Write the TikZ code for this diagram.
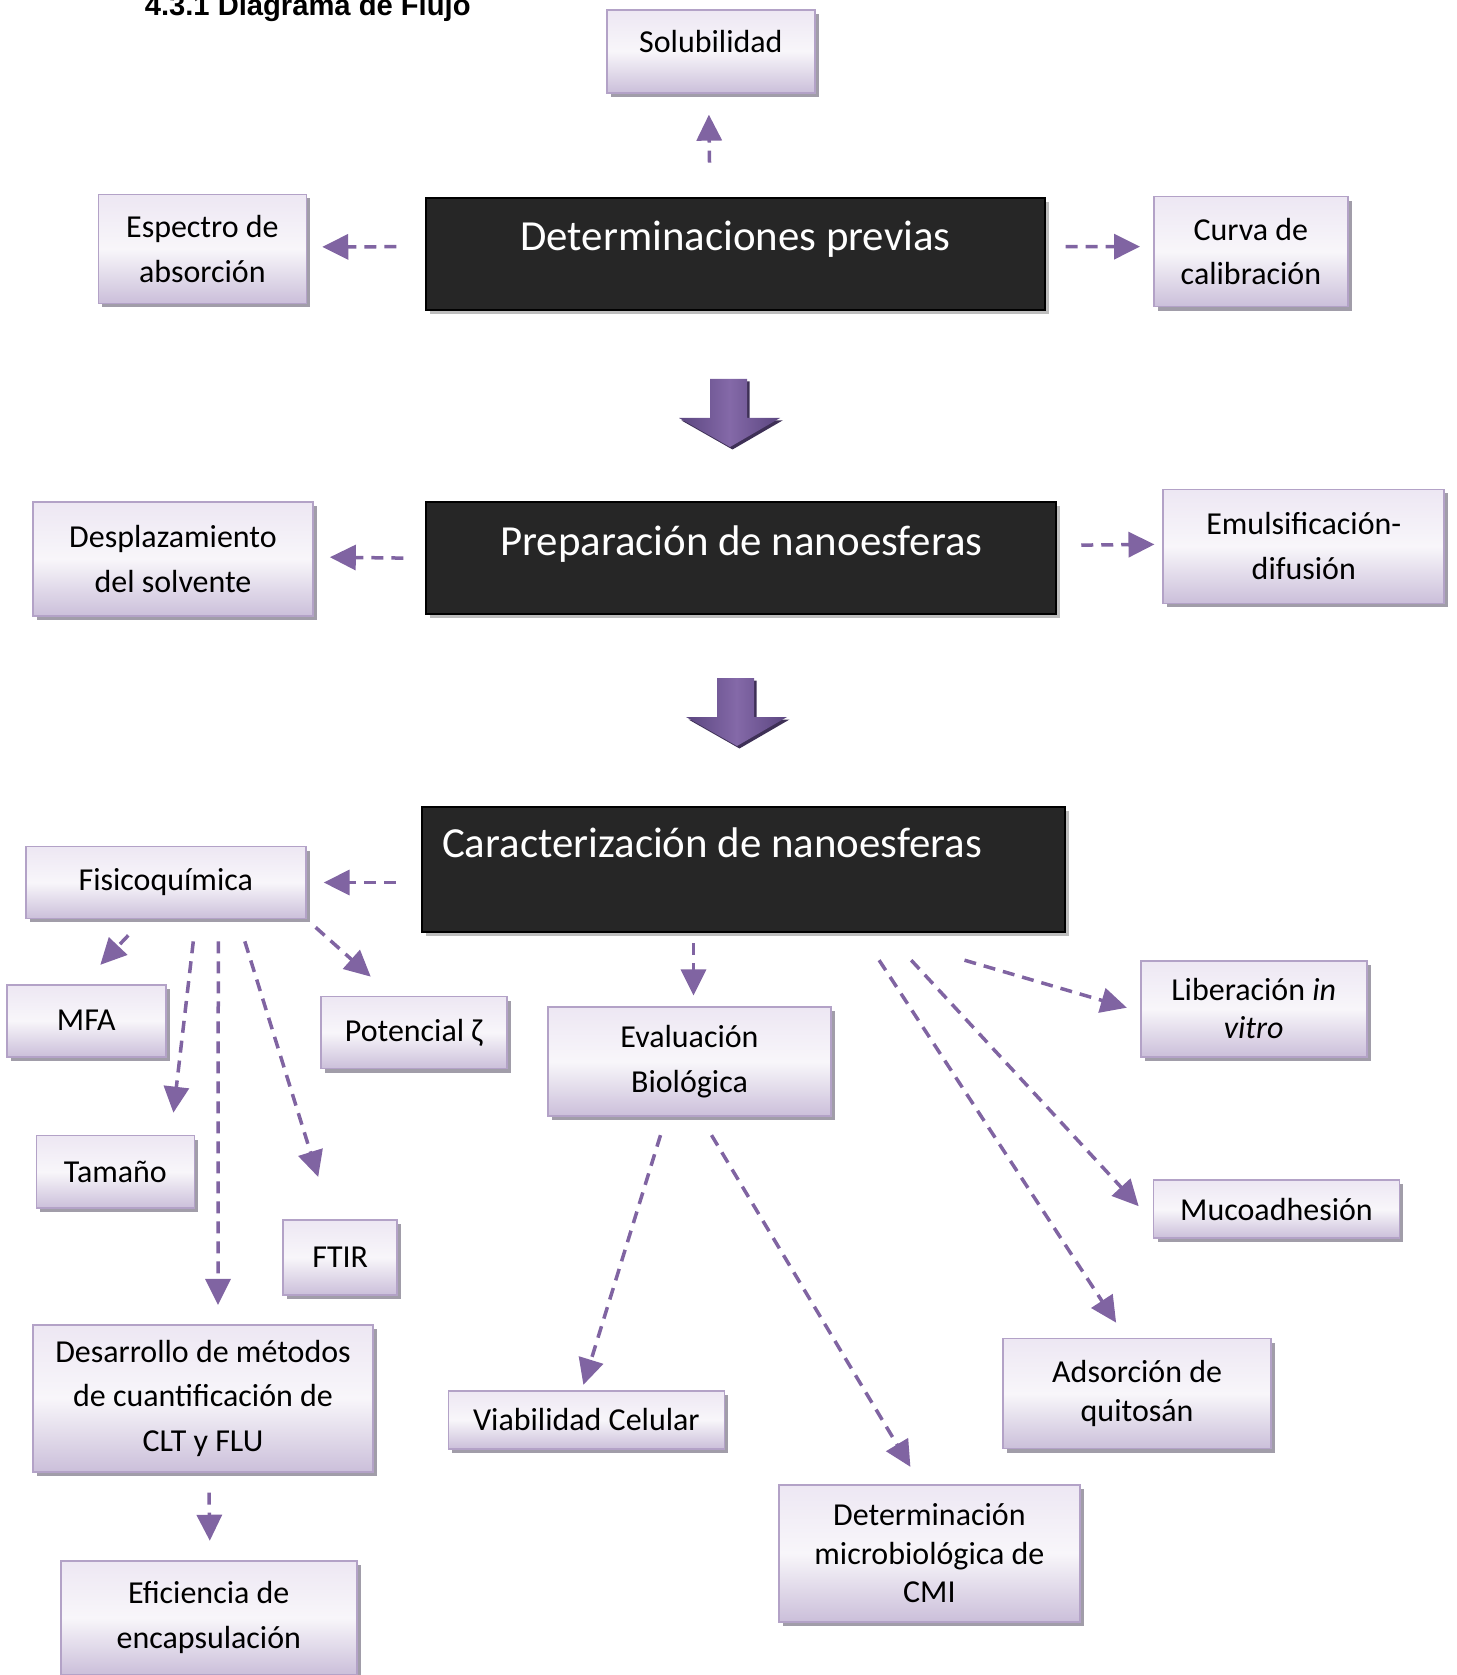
\documentclass[tikz,border=0pt]{standalone}
\usepackage{fontspec}
\setmainfont{Carlito}
\newfontfamily\headfont{Liberation Sans}
\usetikzlibrary{arrows.meta,calc,shadows}
\definecolor{lilac}{HTML}{B3A2C7}
\definecolor{liltop}{HTML}{EDE7F3}
\definecolor{lilmid}{HTML}{F8F6FA}
\definecolor{lilbot}{HTML}{CBBFDA}
\definecolor{boxshade}{HTML}{A19DA9}
\definecolor{ink}{HTML}{262626}
\definecolor{inkshade}{HTML}{BDBDBD}
\definecolor{violet}{HTML}{8064A2}
\definecolor{violetdark}{HTML}{5B4680}
\definecolor{violetmid}{HTML}{8469A8}
\definecolor{violetshade}{HTML}{3E3056}
\tikzset{
  item/.style={
    draw=lilac,
    line width=0.035cm,
    top color=liltop,
    bottom color=lilbot,
    middle color=lilmid,
    drop shadow={shadow xshift=0.08cm, shadow yshift=-0.08cm, fill=boxshade, opacity=1},
    inner sep=0pt,
    align=center,
    text=black,
    font=\fontsize{18.2}{25.5}\selectfont
  },
  tight/.style={
    font=\fontsize{18.2}{21.8}\selectfont
  },
  stage/.style={
    draw=black,
    line width=0.04cm,
    fill=ink,
    drop shadow={shadow xshift=0.08cm, shadow yshift=-0.08cm, fill=inkshade, opacity=1},
    inner sep=0pt,
    align=center,
    text=white,
    font=\fontsize{24.4}{29}\selectfont
  },
  link/.style={
    -{Triangle[length=0.52cm,width=0.5cm]},
    draw=violet,
    line width=0.07cm,
    dash pattern=on 0.24cm off 0.16cm
  },
  bigarrow/.style={
    left color=violetdark,
    right color=violetdark,
    middle color=violetmid
  }
}

\begin{document}
\begin{tikzpicture}[x=0.02cm, y=-0.02cm]
  \useasboundingbox (0,0) rectangle (1456,1675);

  \node[anchor=base west, font=\headfont\bfseries\fontsize{16.6}{20}\selectfont]
    (titulo) at (138.6,16) {4.3.1 Diagrama de Flujo};

  % main stages
  \node[stage, minimum width=12.37cm, text height=1.06cm, text depth=1.18cm]
    (previas) at (735.5,253.7) {Determinaciones previas};
  \node[stage, minimum width=12.6cm, text height=1.06cm, text depth=1.18cm]
    (prepar) at (741.3,558.1) {Preparación de nanoesferas};
  \node[stage, inner xsep=0.4cm, text width=12.06cm, align=flush left,
    text height=1.01cm, text depth=1.51cm]
    (caract) at (743.5,869.5) {Caracterización de nanoesferas};

  \foreach \pos in {(0,0),(7,299)} {
    \fill[violetshade, shift=\pos, shift={(2.5,2.5)}]
      (710,379) -- (747,379) -- (747,418) -- (780,418) -- (730,447)
      -- (679,418) -- (710,418) -- cycle;
    \shade[bigarrow, shift=\pos]
      (710,379) -- (747,379) -- (747,418) -- (780,418) -- (730,447)
      -- (679,418) -- (710,418) -- cycle;
  }

  % determinaciones previas
  \node[item, minimum width=4.16cm, minimum height=1.66cm, text depth=0.4cm]
    (solub) at (710.9,51.3) {Solubilidad};
  \node[item, minimum width=4.16cm, minimum height=2.18cm]
    (espectro) at (202.4,248.9) {Espectro de\\absorción};
  \node[item, minimum width=3.88cm, minimum height=2.2cm]
    (curva) at (1250.9,251.6) {Curva de\\calibración};

  % preparacion
  \node[item, minimum width=5.6cm, minimum height=2.28cm]
    (desplaz) at (173,559.2) {Desplazamiento\\del solvente};
  \node[item, minimum width=5.62cm, minimum height=2.28cm]
    (emulsif) at (1303.8,546.4) {Emulsificación-\\difusión};

  % caracterizacion
  \node[item, minimum width=5.6cm, minimum height=1.44cm]
    (fisico) at (165.8,882.5) {Fisicoquímica};
  \node[item, minimum width=3.18cm, minimum height=1.44cm]
    (mfa) at (86.3,1020.7) {MFA};
  \node[item, minimum width=3.72cm, minimum height=1.44cm]
    (potencial) at (413.7,1032.5) {Potencial ζ};
  \node[item, minimum width=3.16cm, minimum height=1.45cm]
    (tamano) at (115.4,1171.8) {Tamaño};
  \node[item, minimum width=2.28cm, minimum height=1.5cm]
    (ftir) at (340.2,1257.3) {FTIR};
  \node[item, minimum width=6.8cm, minimum height=2.94cm]
    (desarrollo) at (203,1398.3) {Desarrollo de métodos\\de cuantificación de\\CLT y FLU};
  \node[item, minimum width=5.92cm, minimum height=2.28cm]
    (eficiencia) at (208.8,1617.6) {Eficiencia de\\encapsulación};
  \node[item, minimum width=5.66cm, minimum height=2.18cm]
    (evaluacion) at (689.5,1061.8) {Evaluación\\Biológica};
  \node[item, minimum width=5.52cm, minimum height=1.16cm]
    (viabilidad) at (586.4,1419.7) {Viabilidad Celular};
  \node[item, tight, minimum width=6.02cm, minimum height=2.74cm]
    (cmi) at (929.4,1553.2) {Determinación\\microbiológica de\\CMI};
  \node[item, tight, minimum width=4.52cm, minimum height=1.92cm]
    (liberacion) at (1253.7,1008.7) {Liberación \textit{in}\\\textit{vitro}};
  \node[item, minimum width=4.92cm, minimum height=1.16cm]
    (mucoad) at (1276.5,1209.2) {Mucoadhesión};
  \node[item, tight, minimum width=5.36cm, minimum height=2.2cm]
    (adsorcion) at (1137.1,1393.5) {Adsorción de\\quitosán};

  % dashed links
  \draw[link] ($(previas.north)+(-26,-34)$) -- ($(solub.south)+(-2,21)$);
  \draw[link] ($(previas.west)+(-29,-7)$) -- ($(espectro.east)+(15,-2)$);
  \draw[link] ($(previas.east)+(20,-7)$) -- ($(curva.west)+(-13,-5)$);
  \draw[link] ($(prepar.west)+(-22,0)$) -- ($(desplaz.east)+(16,-2)$);
  \draw[link] ($(prepar.east)+(24,-13)$) -- ($(emulsif.west)+(-8,-2)$);
  \draw[link] ($(caract.west)+(-25,13)$) -- ($(fisico.east)+(17,0)$);
  \draw[link] ($(fisico.south)+(-37.5,16)$) -- ($(mfa.north)+(14,-19)$);
  \draw[link] ($(fisico.south)+(27.5,22)$) -- ($(tamano.north)+(58,-22)$);
  \draw[link] ($(fisico.south)+(52.5,22)$) -- ($(desarrollo.north)+(15,-19)$);
  \draw[link] ($(fisico.south)+(79,22)$) -- ($(ftir.north)+(-22,-42)$);
  \draw[link] ($(fisico.south east)+(9,8)$) -- ($(potencial.north)+(-43,-19)$);
  \draw[link] ($(desarrollo.south)+(6,20)$) -- ($(eficiencia.north)+(1,-19)$);
  \draw[link] ($(caract.south)+(-50,10)$) -- ($(evaluacion.north)+(4,-11)$);
  \draw[link] ($(evaluacion.south)+(-29,18)$) -- ($(viabilidad.north)+(-3,-5)$);
  \draw[link] ($(evaluacion.south)+(22,18)$) -- ($(cmi.north)+(-19,-17)$);
  \draw[link] ($(caract.south)+(135.6,26.7)$) -- ($(adsorcion.north)+(-21,-15)$);
  \draw[link] ($(caract.south)+(167.7,26.7)$) -- ($(mucoad.west)+(-14,-3)$);
  \draw[link] ($(caract.south)+(221,26.7)$) -- ($(liberacion.west)+(-13,-1)$);
\end{tikzpicture}
\end{document}
